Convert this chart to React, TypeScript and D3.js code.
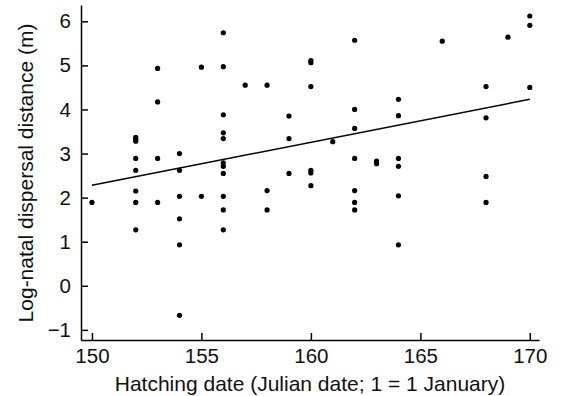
import * as d3 from 'd3'
import { useEffect, useRef } from 'react'

// hatching date (Julian day) and log-natal dispersal distance (m)
const hatchDates = [
    150,
    152, 152, 152, 152, 152, 152, 152, 152,
    153, 153, 153, 153,
    154, 154, 154, 154, 154, 154,
    155, 155,
    156, 156, 156, 156, 156, 156, 156, 156, 156, 156, 156,
    157,
    158, 158, 158,
    159, 159, 159,
    160, 160, 160, 160, 160, 160,
    161,
    162, 162, 162, 162, 162, 162, 162,
    163, 163,
    164, 164, 164, 164, 164, 164,
    166,
    168, 168, 168, 168,
    169,
    170, 170, 170,
];
const dispersal = [
    1.89,
    3.37, 3.32, 3.28, 2.89, 2.62, 2.15, 1.89, 1.27,
    4.93, 4.17, 2.89, 1.89,
    3.0, 2.62, 2.03, 1.52, 0.93, -0.67,
    4.96, 2.03,
    5.74, 4.97, 3.88, 3.47, 3.34, 2.79, 2.71, 2.55, 2.03, 1.72, 1.27,
    4.55,
    4.55, 2.16, 1.72,
    3.85, 3.34, 2.55,
    5.11, 5.06, 4.52, 2.62, 2.56, 2.27,
    3.27,
    5.57, 4.0, 3.57, 2.89, 2.16, 1.89, 1.72,
    2.83, 2.77,
    4.23, 3.86, 2.89, 2.71, 2.04, 0.93,
    5.55,
    4.52, 3.81, 2.48, 1.89,
    5.64,
    6.12, 5.91, 4.5,
];

// fitted regression line endpoints (x, y)
const fitX = [150, 170];
const fitY = [2.28, 4.23];

const xTicks = [150, 155, 160, 165, 170];
const yTicks = [-1, 0, 1, 2, 3, 4, 5, 6];

const width = 561;
const height = 396;

const ScatterChart = () => {
    const ref = useRef<SVGSVGElement>(null);

    useEffect(() => {
        const svg = d3.select(ref.current);
        svg.selectAll('*').remove();

        const x = d3.scaleLinear().domain([149.5, 170.42]).range([81, 539]);
        const y = d3.scaleLinear().domain([-1.23, 6.37]).range([340, 5]);
        const font = '"Liberation Sans", Arial, sans-serif';

        const yAxis = svg.append('g')
            .attr('transform', `translate(${x.range()[0]},0)`)
            .call(d3.axisLeft(y).tickValues(yTicks).tickSizeInner(-7).tickSizeOuter(0).tickPadding(10));

        const xAxis = svg.append('g')
            .attr('transform', `translate(0,${y.range()[0]})`)
            .call(d3.axisBottom(x).tickValues(xTicks).tickSizeInner(-7).tickSizeOuter(0).tickPadding(8));

        [xAxis, yAxis].forEach(g => {
            g.selectAll('path, line').attr('stroke', '#000').attr('stroke-width', 1.5);
            g.selectAll('text')
                .attr('font-family', font)
                .attr('font-size', 20.5)
                .attr('fill', '#111');
        });

        // regression line
        const line = d3.line<number>()
            .x(d => x(fitX[d]))
            .y(d => y(fitY[d]));
        svg.append('path')
            .datum([0, 1])
            .attr('fill', 'none')
            .attr('stroke', '#000')
            .attr('stroke-width', 1.5)
            .attr('d', line);

        svg.append('g')
            .selectAll('circle')
            .data(hatchDates)
            .join('circle')
            .attr('cx', d => x(d))
            .attr('cy', (_, i) => y(dispersal[i]))
            .attr('r', 2.6)
            .attr('fill', '#000');

        svg.append('text')
            .attr('text-anchor', 'middle')
            .attr('font-family', font)
            .attr('font-size', 21)
            .attr('fill', '#111')
            .attr('x', 310)
            .attr('y', 391)
            .text('Hatching date (Julian date; 1 = 1 January)');

        svg.append('text')
            .attr('text-anchor', 'middle')
            .attr('font-family', font)
            .attr('font-size', 21)
            .attr('fill', '#111')
            .attr('transform', `translate(33,173) rotate(-90)`)
            .text('Log-natal dispersal distance (m)');
    }, []);

    return (
        <svg ref={ref} width={width} height={height}
            style={{ position: 'absolute', left: 0, top: 0, background: '#fff' }} />
    );
};

export default function App() {
    return <ScatterChart />;
}
